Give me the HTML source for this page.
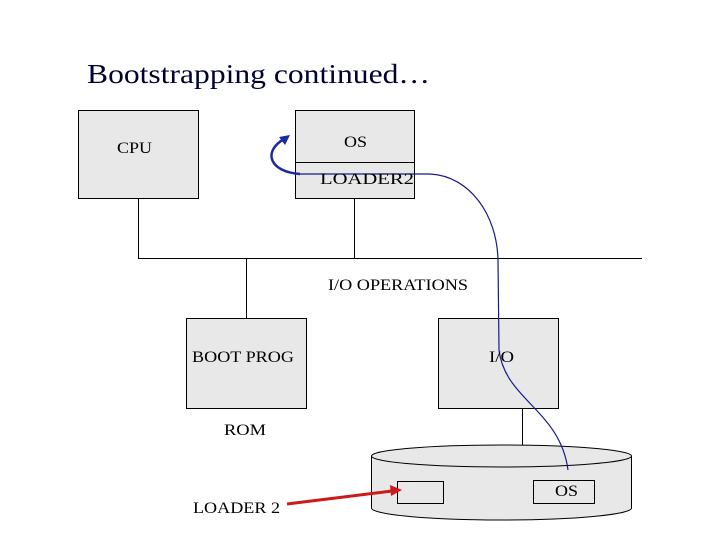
<!DOCTYPE html>
<html><head><meta charset="utf-8"><style>
html,body{margin:0;padding:0;background:#fff;}
svg{display:block;}
text{font-family:"Liberation Serif",serif;fill:#000;}
</style></head><body>
<svg width="720" height="540" viewBox="0 0 720 540" xmlns="http://www.w3.org/2000/svg">
<text x="87" y="83" font-size="27.5" textLength="343" lengthAdjust="spacingAndGlyphs" style="fill:#000033">Bootstrapping continued…</text>
<g stroke="#000" stroke-width="1" fill="#e8e8e8">
<rect x="78.5" y="110.5" width="120" height="88"/>
<rect x="295.5" y="110.5" width="119" height="88"/>
<line x1="295" y1="162.5" x2="414" y2="162.5"/>
<rect x="186.5" y="318.5" width="120" height="90"/>
<rect x="438.5" y="318.5" width="120" height="90"/>
<path d="M371.5,456 L371.5,508 A130,12 0 0 0 631.5,508 L631.5,456"/>
<ellipse cx="501.5" cy="456" rx="130" ry="11"/>
<rect x="397.5" y="481.5" width="46" height="22"/>
<rect x="533.5" y="480.5" width="61" height="23"/>
</g>
<g stroke="#000" stroke-width="1" fill="none">
<path d="M138.5,198 V258.5 H642"/>
<line x1="354.5" y1="198" x2="354.5" y2="258"/>
<line x1="246.5" y1="258" x2="246.5" y2="318"/>
<line x1="522.5" y1="408" x2="522.5" y2="445"/>
</g>
<path d="M300,174 H430 C470,176 497,215 498,260 L499,350 C505,400 560,410 568,470" stroke="#1a1a8c" stroke-width="1.2" fill="none"/>
<path d="M300,174 C270,172 262,152 284,139" stroke="#1a2aa0" stroke-width="2.5" fill="none"/>
<polygon points="290,135 279,137 285,145" fill="#1a2aa0"/>
<line x1="287" y1="504" x2="392" y2="491" stroke="#cc1a1a" stroke-width="3"/>
<polygon points="402,490 390,485 391,496" fill="#cc1a1a"/>
<g font-size="16">
<text x="117" y="153" textLength="35" lengthAdjust="spacingAndGlyphs">CPU</text>
<text x="344" y="147" textLength="23" lengthAdjust="spacingAndGlyphs">OS</text>
<text x="320" y="184" textLength="94" lengthAdjust="spacingAndGlyphs">LOADER2</text>
<text x="328" y="290" textLength="140" lengthAdjust="spacingAndGlyphs">I/O OPERATIONS</text>
<text x="192" y="362" textLength="102" lengthAdjust="spacingAndGlyphs">BOOT PROG</text>
<text x="489" y="362" textLength="25" lengthAdjust="spacingAndGlyphs">I/O</text>
<text x="224" y="435" textLength="42" lengthAdjust="spacingAndGlyphs">ROM</text>
<text x="555" y="496" textLength="23" lengthAdjust="spacingAndGlyphs">OS</text>
<text x="193" y="513" textLength="87" lengthAdjust="spacingAndGlyphs">LOADER 2</text>
</g>
</svg>
</body></html>
